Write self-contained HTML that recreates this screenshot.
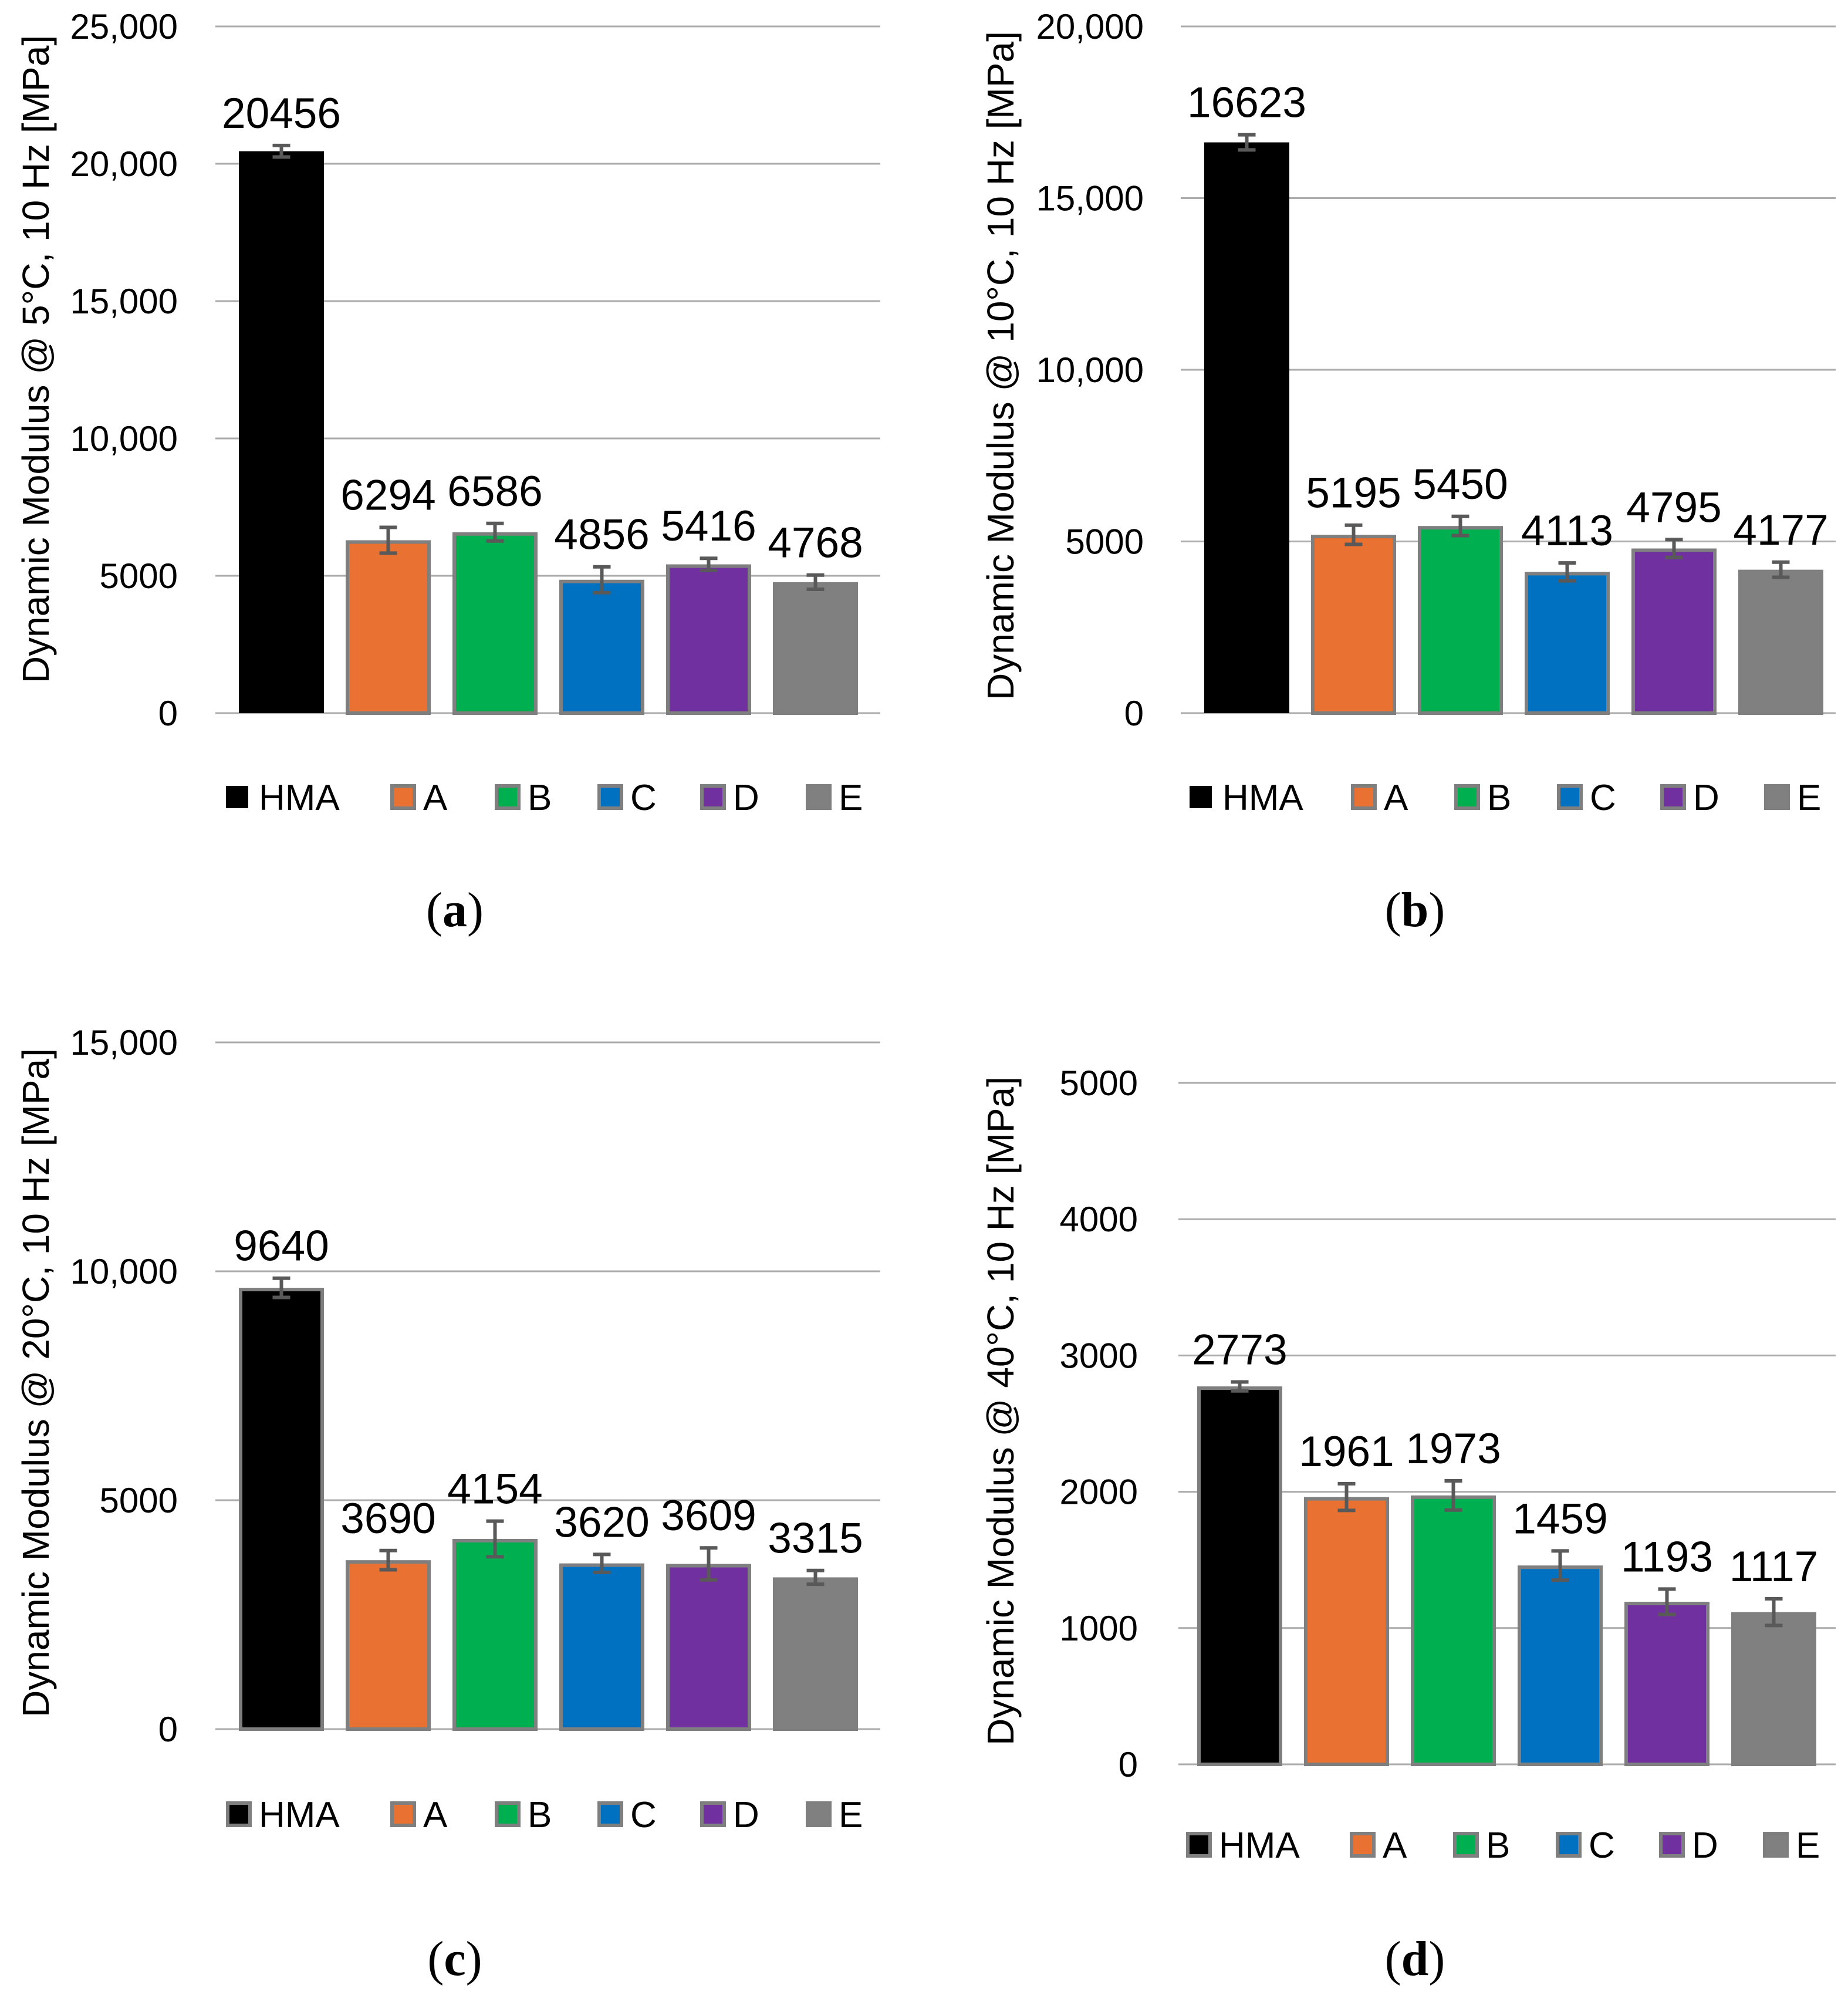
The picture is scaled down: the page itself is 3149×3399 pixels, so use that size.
<!DOCTYPE html>
<html><head><meta charset="utf-8">
<style>
html,body{margin:0;padding:0;background:#fff;}
svg{display:block;}
text{font-family:"Liberation Sans",sans-serif;fill:#000;}
</style></head>
<body>
<svg id="fig" width="3149" height="3399" viewBox="0 0 3149 3399" xmlns="http://www.w3.org/2000/svg"></svg>
<script>
const categories = ["HMA","A","B","C","D","E"];
const colors = ["#000000","#E97132","#00B050","#0070C0","#7030A0","#808080"];
const valuesA = [20456,6294,6586,4856,5416,4768];
const errorsA = [210,470,320,470,220,260];
const ticksA = [0,5000,10000,15000,20000,25000];
const tickLabelsA = ["0","5000","10,000","15,000","20,000","25,000"];
const valuesB = [16623,5195,5450,4113,4795,4177];
const errorsB = [220,280,280,260,260,220];
const ticksB = [0,5000,10000,15000,20000];
const tickLabelsB = ["0","5000","10,000","15,000","20,000"];
const valuesC = [9640,3690,4154,3620,3609,3315];
const errorsC = [210,210,390,195,350,150];
const ticksC = [0,5000,10000,15000];
const tickLabelsC = ["0","5000","10,000","15,000"];
const valuesD = [2773,1961,1973,1459,1193,1117];
const errorsD = [33,98,107,107,93,98];
const ticksD = [0,1000,2000,3000,4000,5000];
const tickLabelsD = ["0","1000","2000","3000","4000","5000"];

const NS="http://www.w3.org/2000/svg";
const svg=document.getElementById('fig');
function mk(tag,attrs,parent){const e=document.createElementNS(NS,tag);for(const k in attrs)e.setAttribute(k,attrs[k]);(parent||svg).appendChild(e);return e;}

const panels=[
 {id:'a',vals:valuesA,errs:errorsA,ticks:ticksA,tl:tickLabelsA,max:25000,gx0:367,gx1:1500,off:40,y0:1215,yTop:45,tickX:303,titleX:61,titleY:612,title:"Dynamic Modulus @ 5\u00B0C, 10 Hz [MPa]",legY:1358,legX:[385,665,843,1018,1193,1373],capX:775,capY:1578,hmaBorder:false},
 {id:'b',vals:valuesB,errs:errorsB,ticks:ticksB,tl:tickLabelsB,max:20000,gx0:2012,gx1:3128,off:40,y0:1215,yTop:45,tickX:1949,titleX:1705,titleY:623,title:"Dynamic Modulus @ 10\u00B0C, 10 Hz [MPa]",legY:1358,legX:[2027,2302,2478,2653,2829,3006],capX:2411,capY:1578,hmaBorder:false},
 {id:'c',vals:valuesC,errs:errorsC,ticks:ticksC,tl:tickLabelsC,max:15000,gx0:367,gx1:1500,off:40,y0:2946,yTop:1776,tickX:303,titleX:61,titleY:2356,title:"Dynamic Modulus @ 20\u00B0C, 10 Hz [MPa]",legY:3091,legX:[385,665,843,1018,1193,1373],capX:775,capY:3365,hmaBorder:true},
 {id:'d',vals:valuesD,errs:errorsD,ticks:ticksD,tl:tickLabelsD,max:5000,gx0:2008,gx1:3128,off:32,y0:3006,yTop:1845,tickX:1939,titleX:1705,titleY:2404,title:"Dynamic Modulus @ 40\u00B0C, 10 Hz [MPa]",legY:3143,legX:[2021,2300,2476,2651,2827,3004],capX:2411,capY:3365,hmaBorder:true}
];

panels.forEach(p=>{
  const g=mk('g',{});
  
  
  const y=v=>p.y0-(v/p.max)*(p.y0-p.yTop);
  const xb=i=>p.gx0+p.off+i*182;
  p.ticks.forEach((t,i)=>{
    const ln=mk('line',{x1:p.gx0,x2:p.gx1,y1:y(t),y2:y(t),stroke:'#ababab','stroke-width':3},g);
    
    
    const tx=mk('text',{x:p.tickX,y:y(t)+21,'text-anchor':'end','font-size':60},g);
    tx.textContent=p.tl[i];
    
    
  });
  const tt=mk('text',{x:0,y:0,'text-anchor':'middle','font-size':64,transform:`translate(${p.titleX+22},${p.titleY}) rotate(-90)`},g);
  tt.textContent=p.title;
  
  
  p.vals.forEach((v,i)=>{
    const x=xb(i),w=145,top=y(v);
    const border=(i>0||p.hmaBorder);
    const r=mk('rect',{x:border?x+3:x,y:border?top+3:top,width:border?w-6:w,height:border?(p.y0-top-3):(p.y0-top),fill:colors[i],stroke:border?'#7f7f7f':'none','stroke-width':6},g);
    
    
    const cx=x+w/2,e1=y(v+p.errs[i]),e2=y(v-p.errs[i]);
    const eb=mk('path',{d:`M${cx},${e1}V${e2}M${cx-15},${e1}H${cx+15}M${cx-15},${e2}H${cx+15}`,stroke:'#595959','stroke-width':6,fill:'none'},g);
    
    
    const lb=mk('text',{x:cx,y:e1-30,'text-anchor':'middle','font-size':73},g);
    lb.textContent=String(v);
    
    
  });
  categories.forEach((c,i)=>{
    const lx=p.legX[i];
    const sq=(i===0&&!p.hmaBorder)?mk('rect',{x:lx,y:p.legY-19,width:38,height:38,fill:colors[i]},g):mk('rect',{x:lx+3,y:p.legY-19,width:38,height:38,fill:colors[i],stroke:'#7f7f7f','stroke-width':6},g);
    
    
    const lt=mk('text',{x:lx+56,y:p.legY+22,'font-size':62},g);
    lt.textContent=c;
    
    
  });
  const cap=mk('text',{x:p.capX,y:p.capY,'text-anchor':'middle','font-size':84,style:'font-family:"Liberation Serif",serif'},g);
  cap.innerHTML='(<tspan font-weight="bold">'+p.id+'</tspan>)';
  
  
});
</script>
</body></html>
